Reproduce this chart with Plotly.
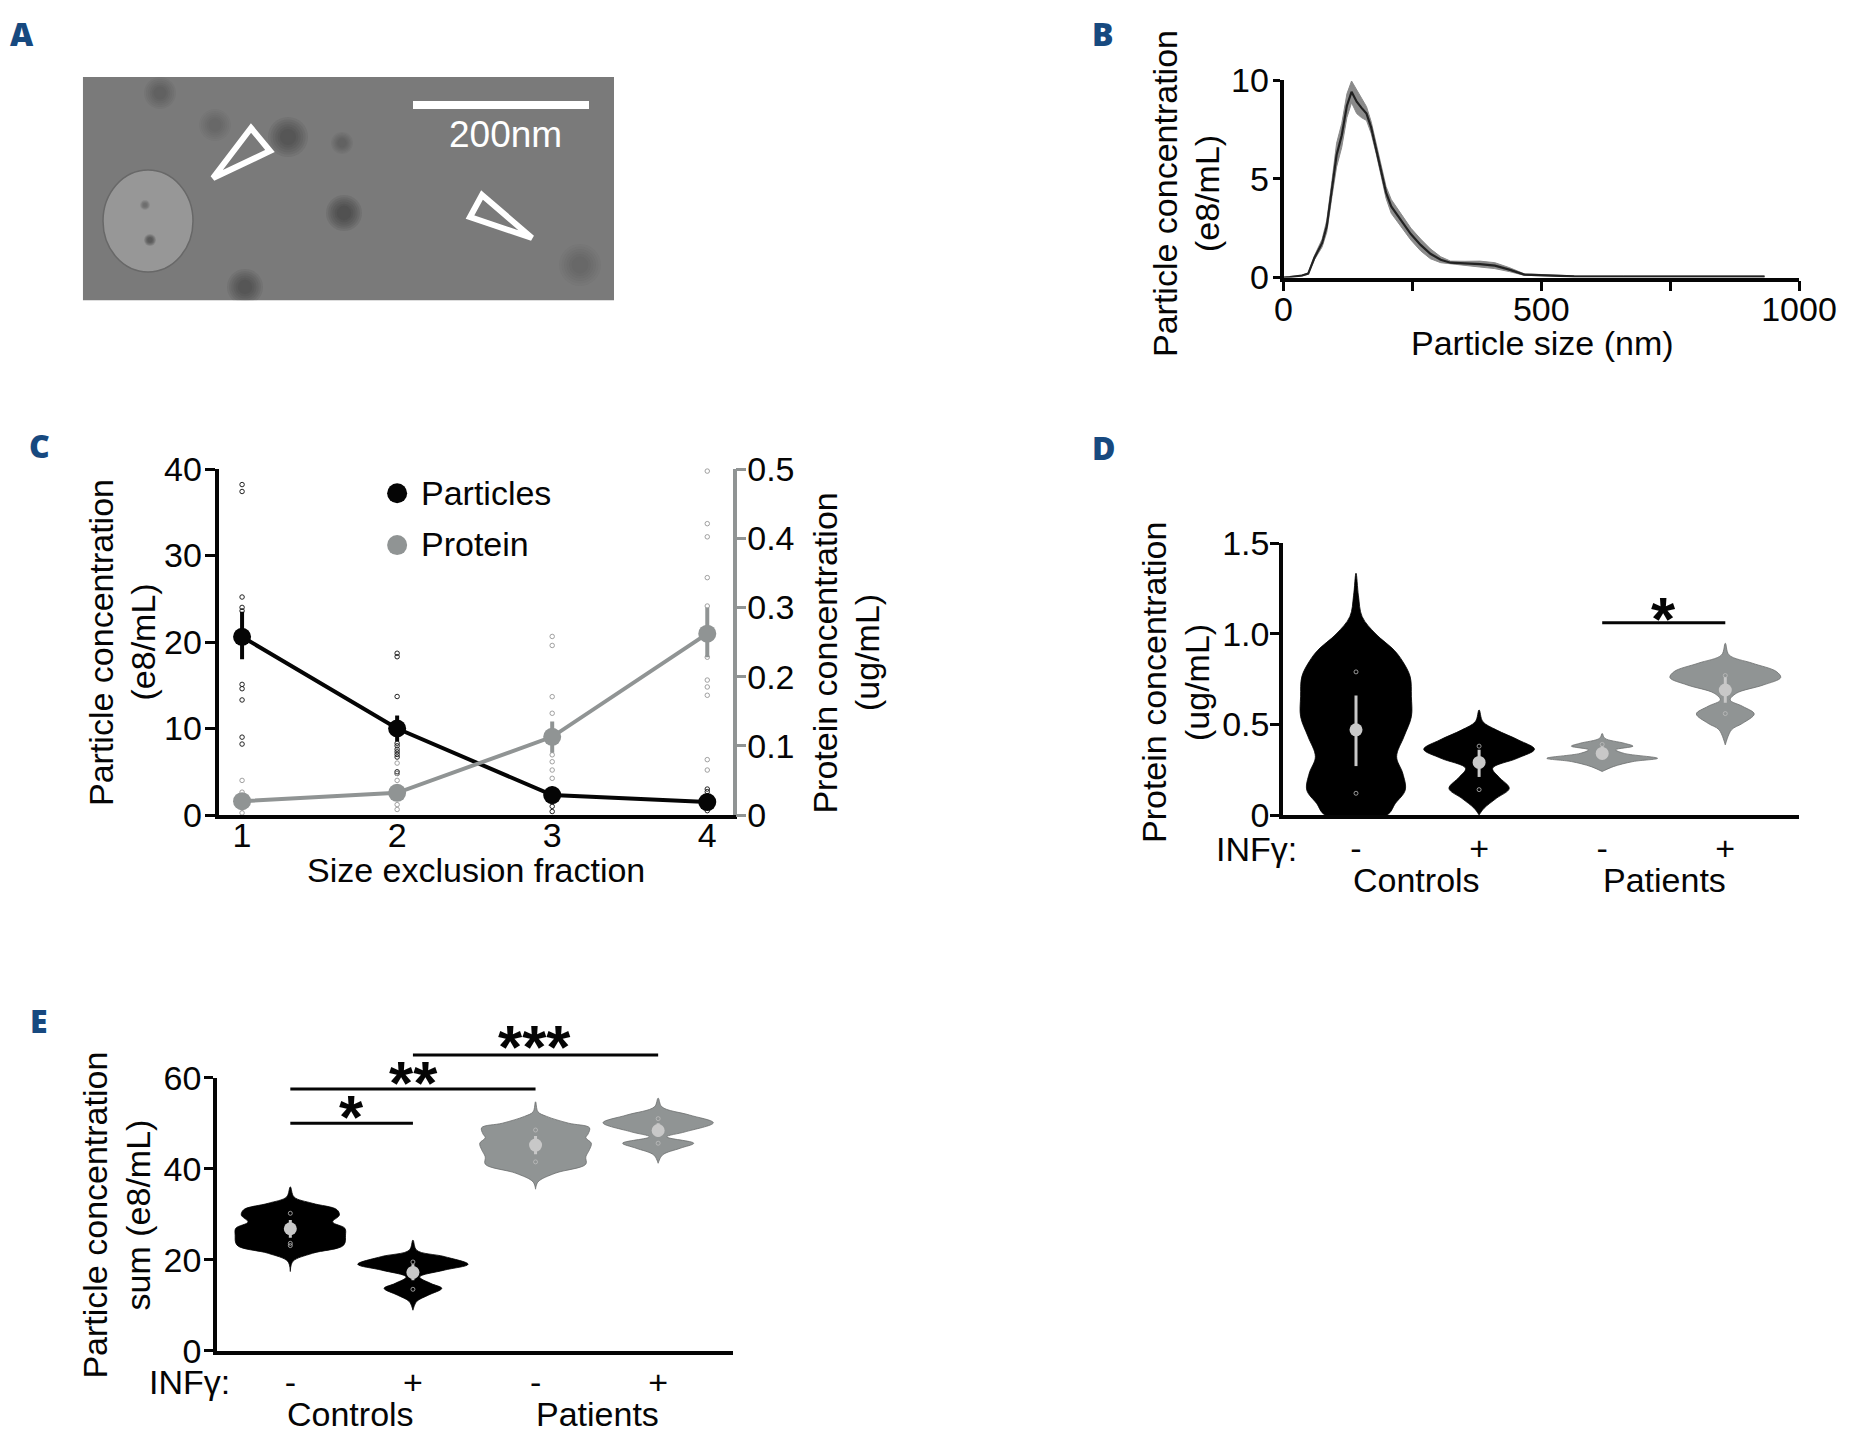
import plotly.graph_objects as go

W, H = 1855, 1445
FONT = "Liberation Sans"
FS = 34
BLACK = "#050505"
GREY = "#909494"
LIGHT = "#c8c8c8"
BLUE = "#17497f"

# ---------- Panel B ----------
size_nm = [0, 12, 36, 48, 60, 75, 84, 94, 103, 113, 123, 132, 142, 151, 161, 170, 180, 190, 199, 209, 228, 247, 266, 285, 305, 324, 352, 381, 410, 438, 467, 515, 564, 660, 933]
conc = [0, .02, .1, .2, 1.0, 1.75, 2.6, 4.5, 6.2, 7.2, 8.7, 9.4, 8.9, 8.6, 8.3, 7.6, 6.5, 5.4, 4.3, 3.6, 2.9, 2.2, 1.65, 1.2, .9, .75, .72, .68, .6, .4, .15, .1, .06, .05, .05]
conc_sd = [0, .01, .02, .03, .1, .2, .3, .4, .6, .6, .6, .55, .6, .5, .35, .3, .25, .25, .3, .35, .35, .3, .3, .25, .15, .08, .1, .15, .15, .1, .04, .02, .02, .03, .03]

# ---------- Panel C ----------
fractions = [1, 2, 3, 4]
particles_mean = [20.6, 10.0, 2.3, 1.5]
particles_lo = [18.0, 8.5, 1.5, 1.0]
particles_hi = [23.5, 11.5, 3.0, 2.0]
particles_x = [1]*10 + [2]*11 + [3]*5 + [4]*3
particles_pts = [38.2, 37.4, 25.2, 24, 23.6, 15.1, 14.6, 13.3, 9, 8.2,
                 18.7, 18.3, 13.7, 8.3, 8, 7.6, 7.3, 7, 6.7, 5, 4.8,
                 3, 2.8, 1.5, 1, .4, 3, 2.7, .5]
protein_mean = [.020, .032, .113, .262]
protein_lo = [.012, .025, .09, .228]
protein_hi = [.028, .040, .135, .300]
protein_x = [1]*5 + [2]*5 + [3]*8 + [4]*11
protein_pts = [.05, .033, .02, .01, .003, .075, .06, .05, .015, .008,
               .258, .245, .171, .147, .087, .077, .065, .053,
               .497, .421, .402, .343, .302, .228, .195, .185, .173, .08, .065]
key_x = [2.0, 2.0]
key_y = [37.2, 31.2]

# ---------- Panel D violins: value / half width pairs ----------
d_groups = [1, 2, 3, 4]
d_tick = ["-", "+", "-", "+"]
d1_v = [1.335, 1.21, 1.095, 1.0, .91, .847, .764, .653, .543, .433, .322, .23, .138, .064, 0]
d1_w = [0, .02, .05, .16, .31, .38, .44, .45, .45, .39, .33, .38, .40, .32, .25]
d2_v = [.58, .516, .47, .414, .363, .313, .258, .21, .147, .092, .037, 0]
d2_w = [0, .03, .14, .32, .45, .31, .11, .16, .245, .14, .04, 0]
d3_v = [.45, .424, .396, .38, .36, .34, .313, .295, .267, .24]
d3_w = [0, .02, .18, .25, .11, .18, .45, .25, .09, 0]
d4_v = [.948, .884, .838, .792, .759, .718, .672, .635, .6, .558, .506, .47, .387]
d4_w = [0, .03, .22, .415, .45, .31, .09, .04, .14, .235, .14, .05, 0]
d_means = [.47, .29, .34, .69]
d_lo = [.27, .21, .31, .62]
d_hi = [.66, .36, .38, .76]
d_pts_x = [1, 1, 2, 2, 3, 4, 4]
d_pts = [.79, .12, .38, .14, .39, .77, .56]

# ---------- Panel E violins ----------
e1_v = [36, 33.8, 32.4, 31, 29.8, 28.3, 26.9, 25.4, 23.2, 21.4, 19.6, 17.4]
e1_w = [0, .03, .18, .38, .40, .345, .445, .45, .435, .18, .02, 0]
e2_v = [24.3, 22.1, 20.7, 19, 17.7, 16.2, 14.8, 13.7, 12.2, 10.8, 8.9]
e2_w = [0, .03, .255, .45, .255, .055, .145, .235, .125, .03, 0]
e3_v = [54.7, 52.5, 51.5, 50, 49, 47.7, 46.8, 45.6, 44.2, 42.6, 41, 39, 37.1, 35.5]
e3_w = [0, .02, .09, .27, .44, .43, .41, .455, .44, .41, .41, .16, .02, 0]
e4_v = [55.5, 53.6, 51.8, 50.1, 48.1, 47, 45.6, 44.5, 43, 41.2]
e4_w = [0, .03, .255, .45, .22, .07, .29, .18, .035, 0]
e_means = [26.8, 17.2, 45.2, 48.4]
e_lo = [24.8, 15.5, 43.2, 47.0]
e_hi = [28.7, 19.0, 47.2, 50.0]
e_pts_x = [1, 1, 1, 2, 2, 3, 3, 4, 4]
e_pts = [30.2, 23.1, 23.6, 19.5, 13.5, 48.5, 41.5, 51, 45.6]

fig = go.Figure()


def dx(a, b):
    return [a / W, b / W]


def dy(top, bottom):
    return [1 - bottom / H, 1 - top / H]


def axis(**kw):
    base = dict(showgrid=False, zeroline=False, showline=True, linecolor=BLACK, linewidth=3.5,
                ticks="outside", tickwidth=3, tickcolor=BLACK,
                tickfont=dict(family=FONT, size=FS, color=BLACK), fixedrange=True)
    base.update(kw)
    return base


# Panel B band and mean
upper = [c + s for c, s in zip(conc, conc_sd)]
lower = [c - s for c, s in zip(conc, conc_sd)]
fig.add_trace(go.Scatter(x=size_nm + size_nm[::-1], y=upper + lower[::-1], mode="lines", fill="toself",
                         fillcolor="#8a8a8a", line=dict(color="#8a8a8a", width=1), showlegend=False,
                         xaxis="x", yaxis="y", cliponaxis=False))
fig.add_trace(go.Scatter(x=size_nm, y=conc, mode="lines", line=dict(color="#222222", width=2.2),
                         showlegend=False, xaxis="x", yaxis="y", cliponaxis=False))

# Panel C
fig.add_trace(go.Scatter(x=particles_x, y=particles_pts, mode="markers", showlegend=False, xaxis="x2", yaxis="y2",
                         cliponaxis=False, marker=dict(size=4.5, color="rgba(0,0,0,0)", line=dict(color="#222222", width=1))))
fig.add_trace(go.Scatter(x=fractions, y=particles_mean, mode="lines+markers", name="Particles", showlegend=False,
                         xaxis="x2", yaxis="y2",
                         cliponaxis=False, line=dict(color=BLACK, width=4), marker=dict(size=18, color=BLACK),
                         error_y=dict(type="data", symmetric=False,
                                      array=[h - m for h, m in zip(particles_hi, particles_mean)],
                                      arrayminus=[m - l for m, l in zip(particles_mean, particles_lo)],
                                      color=BLACK, thickness=4, width=0)))
fig.add_trace(go.Scatter(x=protein_x, y=protein_pts, mode="markers", showlegend=False, xaxis="x2", yaxis="y3",
                         cliponaxis=False, marker=dict(size=4.5, color="rgba(0,0,0,0)", line=dict(color="#a0a0a0", width=1))))
fig.add_trace(go.Scatter(x=fractions, y=protein_mean, mode="lines+markers", name="Protein", showlegend=False,
                         xaxis="x2", yaxis="y3",
                         cliponaxis=False, line=dict(color=GREY, width=4), marker=dict(size=18, color=GREY),
                         error_y=dict(type="data", symmetric=False,
                                      array=[h - m for h, m in zip(protein_hi, protein_mean)],
                                      arrayminus=[m - l for m, l in zip(protein_mean, protein_lo)],
                                      color=GREY, thickness=4, width=0)))
# colour key of panel C
fig.add_trace(go.Scatter(x=key_x, y=key_y, mode="markers", showlegend=False, xaxis="x2", yaxis="y2",
                         marker=dict(size=20, color=[BLACK, GREY])))


def violins(profiles, means, lo, hi, pts_x, pts, xa, ya):
    fills = ["#000000", "#000000", GREY, GREY]
    edges = ["#000000", "#000000", "#6c6f6f", "#6c6f6f"]
    for i, (vals, widths) in enumerate(profiles):
        c = i + 1
        xs = [c - w for w in widths] + [c + w for w in widths[::-1]]
        ys = list(vals) + list(vals[::-1])
        fig.add_trace(go.Scatter(x=xs, y=ys, mode="lines", fill="toself", fillcolor=fills[i],
                                 line=dict(color=edges[i], width=0.8, shape="spline", smoothing=1.0),
                                 showlegend=False, xaxis=xa, yaxis=ya))
    fig.add_trace(go.Scatter(x=pts_x, y=pts, mode="markers", showlegend=False, xaxis=xa, yaxis=ya,
                             marker=dict(size=4, color="rgba(0,0,0,0)", line=dict(color="#bdbdbd", width=0.8))))
    fig.add_trace(go.Scatter(x=[1, 2, 3, 4], y=means, mode="markers", showlegend=False, xaxis=xa, yaxis=ya,
                             marker=dict(size=13, color=LIGHT),
                             error_y=dict(type="data", symmetric=False,
                                          array=[h - m for h, m in zip(hi, means)],
                                          arrayminus=[m - l for m, l in zip(means, lo)],
                                          color=LIGHT, thickness=3, width=0)))


violins([(d1_v, d1_w), (d2_v, d2_w), (d3_v, d3_w), (d4_v, d4_w)], d_means, d_lo, d_hi, d_pts_x, d_pts, "x3", "y4")
violins([(e1_v, e1_w), (e2_v, e2_w), (e3_v, e3_w), (e4_v, e4_w)], e_means, e_lo, e_hi, e_pts_x, e_pts, "x4", "y5")


def bracket(x0, x1, y, xa, ya):
    fig.add_trace(go.Scatter(x=[x0, x1], y=[y, y], mode="lines", line=dict(color=BLACK, width=3), showlegend=False,
                             xaxis=xa, yaxis=ya, cliponaxis=False))


bracket(3, 4, 1.062, "x3", "y4")
bracket(1, 2, 50, "x4", "y5")
bracket(1, 3, 57.5, "x4", "y5")
# topmost bracket lies above the drawn y axis, so it uses a hidden taller axis on the same scale
bracket(2, 4, 65, "x4", "y7")

# invisible trace so the micrograph axes exist
fig.add_trace(go.Scatter(x=[None], y=[None], xaxis="x5", yaxis="y6", showlegend=False))

layout = dict(
    width=W, height=H, margin=dict(l=0, r=0, t=0, b=0, autoexpand=False), autosize=False,
    paper_bgcolor="white", plot_bgcolor="rgba(0,0,0,0)",
    font=dict(family=FONT, size=FS, color=BLACK),
    showlegend=False,
    xaxis=axis(domain=dx(1283.5, 1799), range=[0, 1000], tickvals=[0, 250, 500, 750, 1000],
               ticktext=["0", "", "500", "", "1000"], ticklen=10, anchor="y", ticklabelstandoff=-11),
    yaxis=axis(domain=dy(80, 277.5), range=[0, 10], tickvals=[0, 5, 10], ticklen=7, anchor="x", ticklabelstandoff=-3),
    xaxis2=axis(domain=dx(218.5, 732.7), range=[.848, 4.164], tickvals=fractions, ticks="", ticklen=0, anchor="y2",
                ticklabelstandoff=-13),
    yaxis2=axis(domain=dy(469, 815), range=[0, 40], tickvals=[0, 10, 20, 30, 40], ticklen=10, anchor="x2",
                ticklabelstandoff=-4),
    yaxis3=axis(domain=dy(469, 815), range=[0, .5], tickvals=[0, .1, .2, .3, .4, .5],
                ticktext=["0", "0.1", "0.2", "0.3", "0.4", "0.5"], ticklen=10, anchor="x2", overlaying="y2",
                side="right", linecolor=GREY, tickcolor=GREY, ticklabelstandoff=-6),
    xaxis3=axis(domain=dx(1283, 1799.4), range=[.407, 4.602], tickvals=d_groups, ticktext=d_tick, ticks="", anchor="y4"),
    yaxis4=axis(domain=dy(543.3, 815), range=[0, 1.5], tickvals=[0, .5, 1, 1.5], ticktext=["0", "0.5", "1.0", "1.5"],
                ticklen=9, anchor="x3", ticklabelstandoff=-6),
    xaxis4=axis(domain=dx(217, 732.7), range=[.402, 4.608], tickvals=d_groups, ticktext=d_tick, ticks="", anchor="y5",
                ticklabelstandoff=-1),
    yaxis5=axis(domain=dy(1077.7, 1350.7), range=[0, 60], tickvals=[0, 20, 40, 60], ticklen=9, anchor="x4",
                ticklabelstandoff=-4),
    yaxis7=dict(domain=dy(1000, 1350.7), range=[0, 350.7 * 60 / 273], visible=False, fixedrange=True, anchor="x4"),
    xaxis5=dict(domain=dx(82.8, 614), range=[82.8, 614], visible=False, fixedrange=True, anchor="y6"),
    yaxis6=dict(domain=dy(76.9, 300.5), range=[300.5, 76.9], visible=False, fixedrange=True, anchor="x5"),
)

# Micrograph (panel A) drawn as shapes in its own pixel-scaled axes
mg = dict(xref="x5", yref="y6")
shapes = [
    dict(type="rect", x0=82.8, x1=614, y0=76.9, y1=300.5, fillcolor="#7a7a7a", line=dict(width=0), **mg),
    dict(type="circle", x0=103, x1=193, y0=170, y1=272, fillcolor="#979797", line=dict(color="#686868", width=1.5), **mg),
]
for cx, cy, r, op in [(288, 137, 20, .09), (344, 213, 18, .11), (245, 287, 18, .09), (160, 93, 16, .05),
                      (342, 143, 11, .06), (215, 125, 16, .03), (580, 265, 21, .03), (150, 240, 6, .12), (145, 205, 5, .07)]:
    for k in (1.0, .88, .76, .64, .52, .4):
        rr = r * k
        shapes.append(dict(type="circle", x0=cx - rr, x1=cx + rr, y0=cy - rr, y1=cy + rr,
                           fillcolor=f"rgba(45,45,45,{op})", line=dict(width=0), **mg))
shapes += [
    dict(type="line", x0=413, x1=589, y0=105, y1=105, line=dict(color="white", width=8), **mg),
    dict(type="path", path="M 251 128 L 270 151 L 213 178 Z", fillcolor="rgba(0,0,0,0)",
         line=dict(color="white", width=6), **mg),
    dict(type="path", path="M 482 195 L 532 238 L 470 217 Z", fillcolor="rgba(0,0,0,0)",
         line=dict(color="white", width=6), **mg),
]
layout["shapes"] = shapes

anns = []


def txt(s, x, y, size=FS, color=BLACK, angle=0, family=FONT, anchor="center", weight=None):
    f = dict(family=family, size=size, color=color)
    if weight:
        f["weight"] = weight
    anns.append(dict(text=s, x=x / W, y=1 - y / H, xref="paper", yref="paper", showarrow=False, xanchor=anchor,
                     yanchor="middle", textangle=angle, font=f, align="center"))


for letter, x, y in [("A", 22, 33), ("B", 1103, 33), ("C", 39, 445), ("D", 1103, 447), ("E", 39, 1020)]:
    txt(letter, x, y, size=32, color=BLUE, family="Open Sans", weight=800)

txt("200nm", 505, 135, size=37, color="white")
txt("Particle concentration", 1165, 194, angle=-90)
txt("(e8/mL)", 1207, 194, angle=-90)
txt("Particle size (nm)", 1542, 343)
txt("Particle concentration", 100.5, 642.5, angle=-90)
txt("(e8/mL)", 142, 642.5, angle=-90)
txt("Protein concentration", 824.6, 653, angle=-90)
txt("(ug/mL)", 867, 653, angle=-90)
txt("Size exclusion fraction", 476, 870)
txt("Particles", 419, 493, anchor="left")
txt("Protein", 419, 544, anchor="left")
txt("Protein concentration", 1154, 683, angle=-90)
txt("(ug/mL)", 1197, 683, angle=-90)
txt("INFγ:", 1256, 849)
txt("Controls", 1416, 880)
txt("Patients", 1664.6, 880)
txt("Particle concentration", 94.6, 1215, angle=-90)
txt("sum (e8/mL)", 138.4, 1215, angle=-90)
txt("INFγ:", 189.5, 1382)
txt("Controls", 350, 1414)
txt("Patients", 597, 1414)
for s, x, y in [("*", 1663, 618), ("*", 351.5, 1116), ("**", 413, 1082), ("***", 534, 1046)]:
    txt(f"<b>{s}</b>", x, y, size=62)
layout["annotations"] = anns

fig.update_layout(**layout)
fig.write_html("out.html", config=dict(displayModeBar=False),
               post_script="document.body.style.margin='0';")
